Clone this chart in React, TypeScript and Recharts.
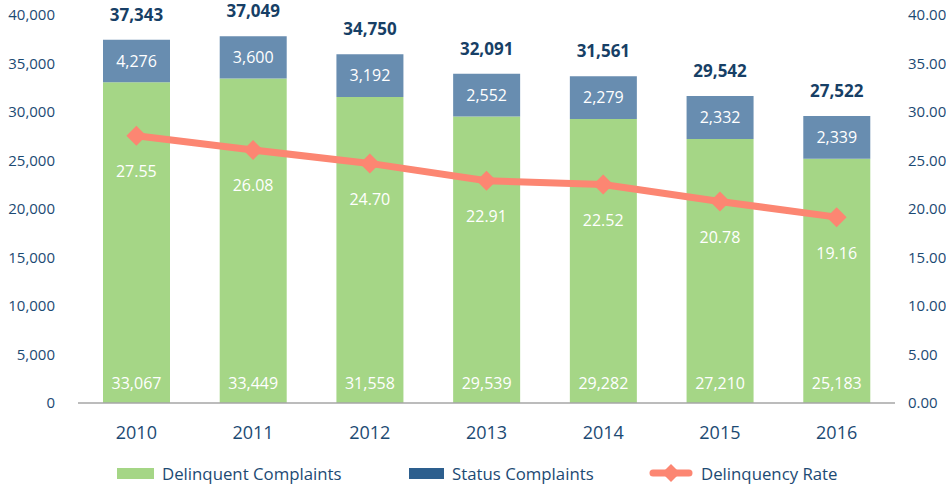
import React from "react";
import {
  ComposedChart,
  Bar,
  Line,
  XAxis,
  YAxis,
  Legend,
  LabelList,
} from "recharts";

const years = ["2010", "2011", "2012", "2013", "2014", "2015", "2016"];
const delinquent = [33067, 33449, 31558, 29539, 29282, 27210, 25183];
const status = [4276, 3600, 3192, 2552, 2279, 2332, 2339];
// the source draws the status segments at almost the same height whatever the value,
// so these are the heights (axis units)
const statusDrawn = [4390, 4370, 4400, 4400, 4400, 4430, 4400];
const totals = [37343, 37049, 34750, 32091, 31561, 29542, 27522];
const rate = [27.55, 26.08, 24.7, 22.91, 22.52, 20.78, 19.16];

const leftTicks = [0, 5000, 10000, 15000, 20000, 25000, 30000, 35000, 40000];
const rightTicks = [0, 5, 10, 15, 20, 25, 30, 35, 40];

const GREEN = "#a5d686";
const BLUE = "#688db0";
const BLUE_DARK = "#2d5f8e";
const SALMON = "#fc8672";
const TEXT = "#1c4a73";
const FONT = "'Open Sans', sans-serif";

const data = years.map((year, i) => ({
  year,
  delinquent: delinquent[i],
  status: status[i],
  statusDrawn: statusDrawn[i],
  total: totals[i],
  rate: rate[i],
}));

const fmtInt = (v: number) => v.toLocaleString("en-US");

// diamond marker for the rate line
const Diamond = (props: any) => {
  const { cx, cy } = props;
  if (cx == null || cy == null) return null;
  const r = 10;
  return (
    <path
      d={`M${cx},${cy - r} L${cx + r},${cy} L${cx},${cy + r} L${cx - r},${cy} Z`}
      fill={SALMON}
    />
  );
};

const item = (left: number): React.CSSProperties => ({
  position: "absolute",
  left,
  top: 0,
  height: 24,
  display: "flex",
  alignItems: "center",
  whiteSpace: "nowrap",
});

const LegendContent = () => (
  <div
    style={{
      position: "relative",
      width: 946,
      height: 24,
      fontFamily: FONT,
      fontSize: 16.8,
      color: TEXT,
    }}
  >
    <div style={item(117)}>
      <div style={{ width: 37, height: 11, background: GREEN }} />
      <span style={{ marginLeft: 8 }}>Delinquent Complaints</span>
    </div>
    <div style={item(409)}>
      <div style={{ width: 35, height: 11, background: BLUE_DARK }} />
      <span style={{ marginLeft: 8 }}>Status Complaints</span>
    </div>
    <div style={item(649)}>
      <svg width={44} height={20}>
        <line x1={4} y1={10} x2={40} y2={10} stroke={SALMON} strokeWidth={7} strokeLinecap="round" />
        <path d="M22,1 L31,10 L22,19 L13,10 Z" fill={SALMON} />
      </svg>
      <span style={{ marginLeft: 8 }}>Delinquency Rate</span>
    </div>
  </div>
);

export default function App() {
  return (
    <div style={{ position: "absolute", left: 0, top: 0 }}>
      <ComposedChart
        width={946}
        height={484}
        data={data}
        margin={{ top: 15, right: 0, left: 0, bottom: 27 }}
      >
        <XAxis
          dataKey="year"
          height={30}
          axisLine={{ stroke: "#a6a6a6", strokeWidth: 1.5 }}
          tickLine={false}
          tickSize={0}
          tickMargin={23}
          tick={{ fill: TEXT, fontSize: 18, fontFamily: FONT }}
        />
        <YAxis
          yAxisId="left"
          width={78}
          domain={[0, 40000]}
          ticks={leftTicks}
          axisLine={false}
          tickLine={false}
          tickSize={0}
          tickMargin={23}
          tickFormatter={fmtInt}
          tick={{ fill: TEXT, fontSize: 15, fontFamily: FONT }}
        />
        <YAxis
          yAxisId="right"
          orientation="right"
          width={51}
          domain={[0, 40]}
          ticks={rightTicks}
          axisLine={false}
          tickLine={false}
          tickSize={0}
          tickMargin={13}
          tickFormatter={(v: number) => v.toFixed(2)}
          tick={{ fill: TEXT, fontSize: 15, fontFamily: FONT, textAnchor: "start" }}
        />
        <Legend
          verticalAlign="bottom"
          content={LegendContent}
          wrapperStyle={{ top: 461, left: 0, width: 946, height: 24 }}
        />
        <Bar
          yAxisId="left"
          dataKey="delinquent"
          name="Delinquent Complaints"
          stackId="a"
          fill={GREEN}
          barSize={67}
          isAnimationActive={false}
        >
          <LabelList
            dataKey="delinquent"
            position="insideBottom"
            offset={14}
            formatter={(v: any) => fmtInt(Number(v))}
            fill="#ffffff"
            style={{ fontSize: 16, fontFamily: FONT }}
          />
        </Bar>
        <Bar
          yAxisId="left"
          dataKey="statusDrawn"
          name="Status Complaints"
          stackId="a"
          fill={BLUE}
          barSize={67}
          isAnimationActive={false}
        >
          <LabelList
            dataKey="status"
            position="center"
            formatter={(v: any) => fmtInt(Number(v))}
            fill="#ffffff"
            style={{ fontSize: 16, fontFamily: FONT }}
          />
          <LabelList
            dataKey="total"
            position="top"
            offset={19}
            formatter={(v: any) => fmtInt(Number(v))}
            fill="#173f66"
            style={{ fontSize: 17, fontWeight: 700, fontFamily: FONT }}
          />
        </Bar>
        <Line
          yAxisId="right"
          dataKey="rate"
          name="Delinquency Rate"
          stroke={SALMON}
          strokeWidth={7}
          dot={<Diamond />}
          activeDot={false}
          isAnimationActive={false}
        >
          <LabelList
            dataKey="rate"
            position="bottom"
            offset={30}
            formatter={(v: any) => Number(v).toFixed(2)}
            fill="#ffffff"
            style={{ fontSize: 16, fontFamily: FONT }}
          />
        </Line>
      </ComposedChart>
    </div>
  );
}
